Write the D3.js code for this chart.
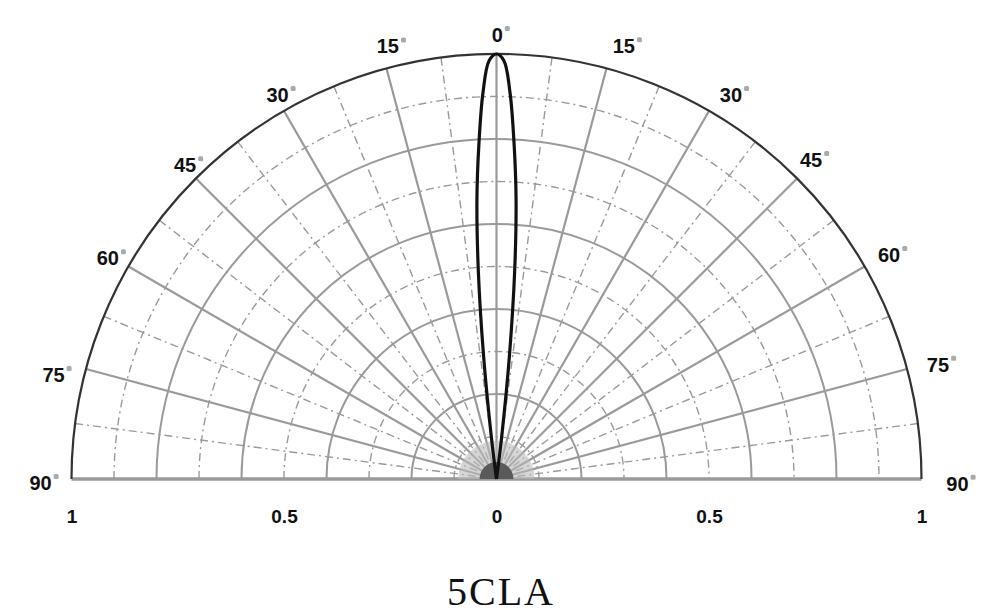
<!DOCTYPE html>
<html>
<head>
<meta charset="utf-8">
<script src="https://cdn.jsdelivr.net/npm/d3@7"></script>
<style>
  html, body { margin: 0; padding: 0; background: #fff; }
  svg { display: block; }
</style>
</head>
<body>
<svg id="chart" width="1003" height="616"></svg>
<script>
// ---- data ----
const angleTicks = [-90, -75, -60, -45, -30, -15, 0, 15, 30, 45, 60, 75, 90];
const minorAngleTicks = [-82.5, -67.5, -52.5, -37.5, -22.5, -7.5, 7.5, 22.5, 37.5, 52.5, 67.5, 82.5];
const majorRadii = [0.2, 0.4, 0.6, 0.8];
const minorRadii = [0.1, 0.3, 0.5, 0.7, 0.9];
const axisTicks = [-1, -0.5, 0, 0.5, 1];
const lobeAngles = [-7.5, -7, -6, -5, -4, -3, -2, -1, 0, 1, 2, 3, 4, 5, 6, 7, 7.5];
const lobeValues = [0, 0.1, 0.29, 0.49, 0.66, 0.79, 0.91, 0.985, 1, 0.985, 0.91, 0.79, 0.66, 0.49, 0.29, 0.1, 0];
const title = "5CLA";

// ---- layout ----
const cx = 496.5, cy = 479, R = 425;
const svg = d3.select("#chart");
const r = d3.scaleLinear().domain([0, 1]).range([0, R]);
const rad = d => d * Math.PI / 180;
const g = svg.append("g").attr("transform", `translate(${cx},${cy})`);
const gridCol = "#9a9a9a";

// label placement nudges (style only): [extra radius px, extra angle deg]
const labelNudge = {
  "-90": [31, 0.5], "-75": [30, 1.8], "-60": [22, 0.4], "-45": [17, -0.2], "-30": [17, -0.3], "-15": [21, -0.9],
  "0": [19, 0.1],
  "15": [26, 1.4], "30": [25, 1.4], "45": [23, -0.4], "60": [27, 0.3], "75": [31, 0.5], "90": [36, 0.6]
};

function arcPath(rr) {
  const p = d3.path();
  p.moveTo(-rr, 0);
  p.arc(0, 0, rr, Math.PI, 2 * Math.PI, false);
  return p.toString();
}

// minor (dash-dot) circles
g.selectAll(".minorCircle").data(minorRadii).join("path")
  .attr("d", d => arcPath(r(d)))
  .attr("fill", "none").attr("stroke", gridCol).attr("stroke-width", 1.4)
  .attr("stroke-dasharray", "8,4,2,4");

// minor (dash-dot) radial lines
g.selectAll(".minorRay").data(minorAngleTicks).join("line")
  .attr("x1", d => r(1) * Math.sin(rad(d))).attr("y1", d => -r(1) * Math.cos(rad(d)))
  .attr("x2", 0).attr("y2", 0)
  .attr("stroke", gridCol).attr("stroke-width", 1.4)
  .attr("stroke-dasharray", "8,4,2,4");

// major circles
g.selectAll(".majorCircle").data(majorRadii).join("path")
  .attr("d", d => arcPath(r(d)))
  .attr("fill", "none").attr("stroke", gridCol).attr("stroke-width", 2);

// major radial lines
g.selectAll(".majorRay").data(angleTicks.filter(a => Math.abs(a) < 90)).join("line")
  .attr("x1", d => r(1) * Math.sin(rad(d))).attr("y1", d => -r(1) * Math.cos(rad(d)))
  .attr("x2", 0).attr("y2", 0)
  .attr("stroke", gridCol).attr("stroke-width", 2.2);

// baseline
g.append("line").attr("x1", -r(1)).attr("x2", r(1)).attr("y1", 0).attr("y2", 0)
  .attr("stroke", gridCol).attr("stroke-width", 3.5);

// center dense spot
g.append("path")
  .attr("d", d3.arc().innerRadius(0).outerRadius(r(0.04)).startAngle(-Math.PI / 2).endAngle(Math.PI / 2)())
  .attr("fill", "#5a5a5a");
g.append("path")
  .attr("d", d3.arc().innerRadius(r(0.04)).outerRadius(r(0.09)).startAngle(-Math.PI / 2).endAngle(Math.PI / 2)())
  .attr("fill", "#bbb").attr("opacity", 0.6);

// outer circle
g.append("path").attr("d", arcPath(r(1)))
  .attr("fill", "none").attr("stroke", "#333").attr("stroke-width", 2.2);

// lobe
const lobe = lobeAngles.map((a, i) => ({ a, v: lobeValues[i] }));
const line = d3.lineRadial()
  .angle(d => rad(d.a))
  .radius(d => r(d.v))
  .curve(d3.curveCatmullRom.alpha(0.5));
g.append("path").datum(lobe).attr("d", line)
  .attr("fill", "none").attr("stroke", "#111").attr("stroke-width", 3.2)
  .attr("stroke-linejoin", "round");

// angle labels
const labelFont = "'Liberation Sans', Arial, sans-serif";
const labG = g.selectAll(".alab").data(angleTicks).join("g")
  .attr("transform", d => {
    const [off, da] = labelNudge[String(d)];
    const rr = r(1) + off;
    const aa = rad(d + (d < 0 ? -da : da));
    return `translate(${rr * Math.sin(aa)},${-rr * Math.cos(aa)})`;
  });
labG.append("text")
  .attr("text-anchor", "middle")
  .attr("dominant-baseline", "central")
  .attr("font-family", labelFont)
  .attr("font-weight", "bold")
  .attr("font-size", 20)
  .attr("fill", "#111")
  .text(d => Math.abs(d));
labG.each(function (d) {
  const t = d3.select(this).select("text").node();
  const w = t.getComputedTextLength();
  d3.select(this).append("rect")
    .attr("x", w / 2 + 2).attr("y", -9).attr("width", 5).attr("height", 5)
    .attr("rx", 1.5).attr("fill", "#aaa");
});

// bottom axis
const xs = d3.scaleLinear().domain([-1, 1]).range([cx - R, cx + R]);
const axis = d3.axisBottom(xs).tickValues(axisTicks).tickSize(0).tickPadding(0)
  .tickFormat(d => d3.format("~g")(Math.abs(d)));
const ax = svg.append("g").attr("transform", `translate(0,${cy + 44})`).call(axis);
ax.select(".domain").remove();
ax.selectAll("text").attr("font-family", labelFont).attr("font-weight", "bold")
  .attr("font-size", 19).attr("fill", "#111").attr("dy", "0");

// title
svg.append("text").attr("x", 501).attr("y", 605).attr("text-anchor", "middle")
  .attr("font-family", "'Liberation Serif', 'Times New Roman', serif")
  .attr("font-size", 40).attr("letter-spacing", 2).attr("fill", "#111").text(title);
</script>
</body>
</html>
